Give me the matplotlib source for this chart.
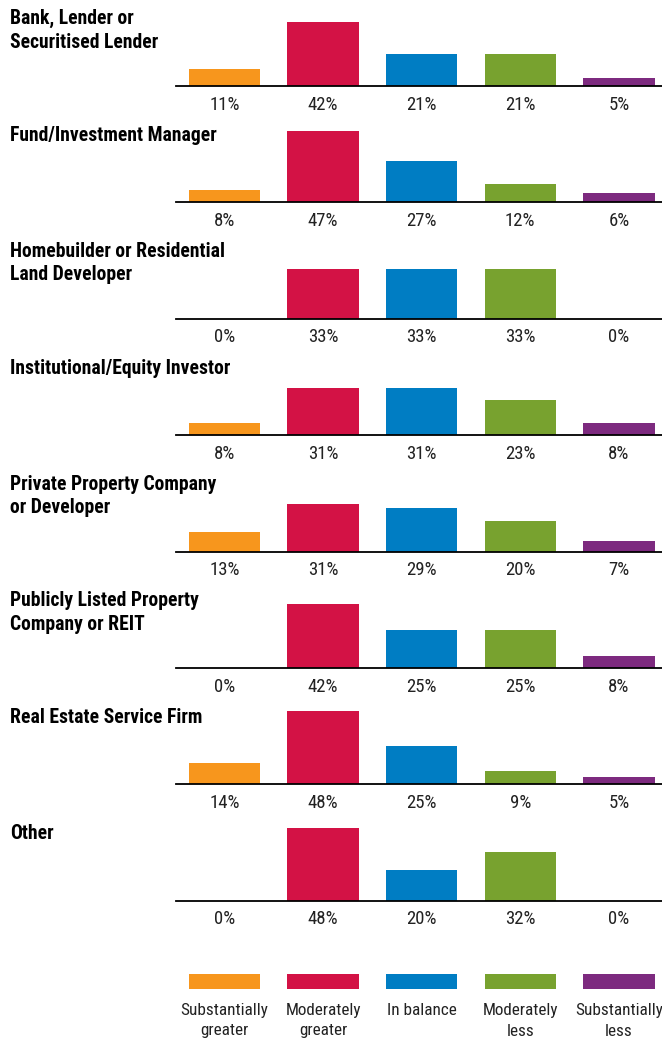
import matplotlib
matplotlib.use("Agg")
import matplotlib.pyplot as plt
import matplotlib.transforms as mtransforms
from matplotlib import font_manager

categories = [
    ["Bank, Lender or", "Securitised Lender"],
    ["Fund/Investment Manager"],
    ["Homebuilder or Residential", "Land Developer"],
    ["Institutional/Equity Investor"],
    ["Private Property Company", "or Developer"],
    ["Publicly Listed Property", "Company or REIT"],
    ["Real Estate Service Firm"],
    ["Other"],
]

substantially_greater = [11, 8, 0, 8, 13, 0, 14, 0]
moderately_greater    = [42, 47, 33, 31, 31, 42, 48, 48]
in_balance            = [21, 27, 33, 31, 29, 25, 25, 20]
moderately_less       = [21, 12, 33, 23, 20, 25, 9, 32]
substantially_less    = [5, 6, 0, 8, 7, 8, 5, 0]

series_labels = [["Substantially", "greater"], ["Moderately", "greater"],
                 ["In balance"], ["Moderately", "less"], ["Substantially", "less"]]
colors = ["#F7961D", "#D31245", "#007DC3", "#78A22F", "#7D2A7F"]

series = [substantially_greater, moderately_greater, in_balance,
          moderately_less, substantially_less]

# pick a condensed font
names = {f.name for f in font_manager.fontManager.ttflist}
prefs = ['Roboto Condensed', 'Archivo Narrow', 'Liberation Sans Narrow', 'PT Sans Narrow',
         'Pragati Narrow', 'Fira Sans Condensed', 'IBM Plex Sans Condensed',
         'Asap Condensed', 'Barlow Semi Condensed', 'Encode Sans Condensed',
         'Sofia Sans Condensed', 'Open Sans Condensed']
font = None
for p in prefs:
    if p in names:
        font = p
        break
if font is None:
    cands = sorted(n for n in names if ('Condensed' in n or 'Narrow' in n))
    font = cands[0] if cands else 'DejaVu Sans'
plt.rcParams['font.family'] = [font, 'DejaVu Sans']

W, H = 662, 1039
fig = plt.figure(figsize=(W / 100, H / 100), dpi=100)
renderer = fig.canvas.get_renderer()

def fit_size(text, target_px, weight):
    t = fig.text(0, 0, text, fontsize=10, fontweight=weight)
    w = t.get_window_extent(renderer).width
    t.remove()
    return 10 * target_px / w

title_fs = fit_size("Fund/Investment Manager", 205, "bold")
legend_fs = fit_size("Substantially", 87, "normal")
pct_fs = fit_size("42%", 30.2, "normal")

def fx(x):
    return x / W

def fy(y):
    return 1 - y / H

px_per_pct = 1.52
ax_left, ax_right = 176, 662
x_lo, x_hi = -0.492, 4.437
bar_w = 0.725
text_col = "#222222"

for k, cat in enumerate(categories):
    base = 86 + 116.4 * k
    top = base - 80
    ax = fig.add_axes([fx(ax_left), fy(base), fx(ax_right - ax_left), (base - top) / H])
    vals = [s[k] for s in series]
    ax.bar(range(5), vals, width=bar_w, color=colors, linewidth=0)
    ax.set_xlim(x_lo, x_hi)
    ax.set_ylim(0, 80 / px_per_pct)
    ax.axis("off")
    ax.axhline(0, color="black", linewidth=1.3, clip_on=False)
    tr = mtransforms.offset_copy(ax.get_xaxis_transform(), fig=fig, y=-23.5 * 0.72, units="points")
    for i, v in enumerate(vals):
        ax.text(i, 0, f"{v}%", transform=tr, ha="center", va="baseline",
                fontsize=pct_fs, color=text_col)
    for j, line in enumerate(cat):
        fig.text(fx(10), fy(base - 61.7 + 23.3 * j), line, ha="left", va="baseline",
                 fontsize=title_fs, fontweight="bold", color="black")

# legend
lg_top, lg_bot = 974, 989
lax = fig.add_axes([fx(ax_left), fy(lg_bot), fx(ax_right - ax_left), (lg_bot - lg_top) / H])
lax.bar(range(5), [1] * 5, width=bar_w, color=colors, linewidth=0)
lax.set_xlim(x_lo, x_hi)
lax.set_ylim(0, 1)
lax.axis("off")
for i, lab in enumerate(series_labels):
    for j, line in enumerate(lab):
        tr = mtransforms.offset_copy(lax.get_xaxis_transform(), fig=fig,
                                     y=-(1015 - lg_bot + 20.5 * j) * 0.72, units="points")
        lax.text(i, 0, line, transform=tr, ha="center", va="baseline",
                 fontsize=legend_fs, color=text_col)

fig.savefig("out.png", dpi=100)
